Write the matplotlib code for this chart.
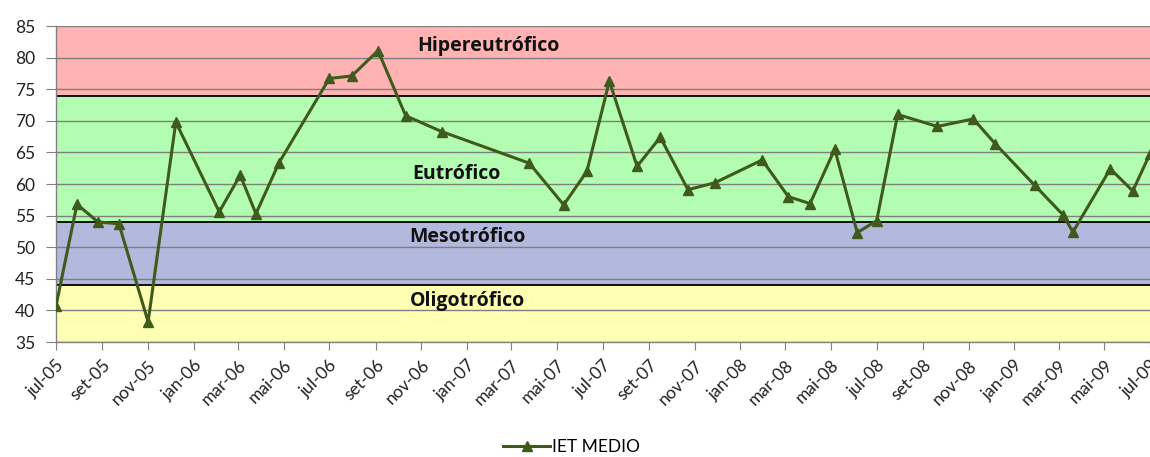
import matplotlib
matplotlib.use("Agg")
import matplotlib.pyplot as plt
from matplotlib.lines import Line2D
import datetime as dt

# ---- data ----
dates = ["2005-07-01", "2005-07-29", "2005-08-26", "2005-09-23", "2005-11-01",
         "2005-12-08", "2006-02-04", "2006-03-04", "2006-03-25", "2006-04-25",
         "2006-07-01", "2006-07-31", "2006-09-04", "2006-10-11", "2006-11-28",
         "2007-03-25", "2007-05-10", "2007-06-10", "2007-07-10", "2007-08-16",
         "2007-09-16", "2007-10-23", "2007-11-28", "2008-01-30", "2008-03-05",
         "2008-04-03", "2008-05-06", "2008-06-05", "2008-07-01", "2008-07-29",
         "2008-09-20", "2008-11-07", "2008-12-06", "2009-01-28", "2009-03-07",
         "2009-03-20", "2009-05-09", "2009-06-08", "2009-07-01"]
iet_medio = [40.7, 56.8, 54.0, 53.7, 38.2,
             69.8, 55.6, 61.4, 55.3, 63.4,
             76.7, 77.1, 81.1, 70.8, 68.3,
             63.3, 56.7, 62.0, 76.3, 62.8,
             67.4, 59.1, 60.2, 63.8, 58.0,
             56.9, 65.5, 52.3, 54.2, 71.0,
             69.1, 70.3, 66.4, 59.8, 55.1,
             52.4, 62.4, 58.9, 64.8]
series_name = "IET MEDIO"

band_names = ["Oligotrófico", "Mesotrófico", "Eutrófico", "Hipereutrófico"]
band_limits = [35, 44, 54, 74, 85]
band_label_y = [41.5, 51.6, 61.6, 81.9]
band_label_x = ["2007-01-01", "2007-01-02", "2006-12-18", "2007-01-29"]
band_colors = ["#FFFFB3", "#B3B9DD", "#B3FDB3", "#FFB3B3"]

tick_dates = ["2005-07-01", "2005-09-01", "2005-11-01", "2006-01-01", "2006-03-01",
              "2006-05-01", "2006-07-01", "2006-09-01", "2006-11-01", "2007-01-01",
              "2007-03-01", "2007-05-01", "2007-07-01", "2007-09-01", "2007-11-01",
              "2008-01-01", "2008-03-01", "2008-05-01", "2008-07-01", "2008-09-01",
              "2008-11-01", "2009-01-01", "2009-03-01", "2009-05-01", "2009-07-01"]
tick_labels = ["jul-05", "set-05", "nov-05", "jan-06", "mar-06", "mai-06", "jul-06",
               "set-06", "nov-06", "jan-07", "mar-07", "mai-07", "jul-07", "set-07",
               "nov-07", "jan-08", "mar-08", "mai-08", "jul-08", "set-08", "nov-08",
               "jan-09", "mar-09", "mai-09", "jul-09"]
y_ticks = [35, 40, 45, 50, 55, 60, 65, 70, 75, 80, 85]

# ---- plot ----
plt.rcParams['font.family'] = ['Lato', 'DejaVu Sans']

to_d = lambda s: dt.datetime.strptime(s, "%Y-%m-%d")
x = [to_d(s) for s in dates]
tx = [to_d(s) for s in tick_dates]

fig = plt.figure(figsize=(11.5, 4.57), dpi=100)
ax = fig.add_axes([0.0487, 0.2516, 0.9513, 0.6915])

line_color = "#3E5A1C"

for i in range(len(band_names)):
    ax.axhspan(band_limits[i], band_limits[i + 1], color=band_colors[i], zorder=0, lw=0)
for yv in y_ticks:
    ax.axhline(yv, color="#7F7F7F", lw=1.0, zorder=1)
for yv in band_limits[1:-1]:
    ax.axhline(yv, color="black", lw=1.3, zorder=2)

for name, xs, ys in zip(band_names, band_label_x, band_label_y):
    ax.text(to_d(xs), ys, name, ha="center", va="center", fontsize=14,
            fontweight="bold", color="#111111", zorder=3,
            family=["Open Sans", "DejaVu Sans"])

ax.plot(x, iet_medio, color=line_color, lw=2.2, marker="^", markersize=7,
        markerfacecolor=line_color, markeredgecolor=line_color, zorder=4,
        clip_on=True)

ax.set_xlim(tx[0], tx[-1])
ax.set_ylim(35, 85)
ax.set_yticks(y_ticks)
ax.set_xticks(tx)
ax.set_xticklabels(tick_labels, rotation=45, ha="right", rotation_mode="anchor",
                   fontsize=12.5, color="#222222")
ax.tick_params(axis="y", labelsize=12.5, color="#808080", length=7, direction="out",
               labelcolor="#222222", pad=8)
ax.tick_params(axis="x", color="#808080", length=6, direction="out", pad=5)

for s in ["top", "right"]:
    ax.spines[s].set_visible(False)
for s in ["left", "bottom"]:
    ax.spines[s].set_color("#808080")
    ax.spines[s].set_linewidth(1.0)

handle = Line2D([], [], color=line_color, lw=2.2, marker="^", markersize=7)
fig.legend([handle], [series_name], loc="lower center",
           bbox_to_anchor=(0.497, -0.03), frameon=False, fontsize=12.5,
           handlelength=2.7, handletextpad=0.1)

fig.savefig("out.png", dpi=100)
